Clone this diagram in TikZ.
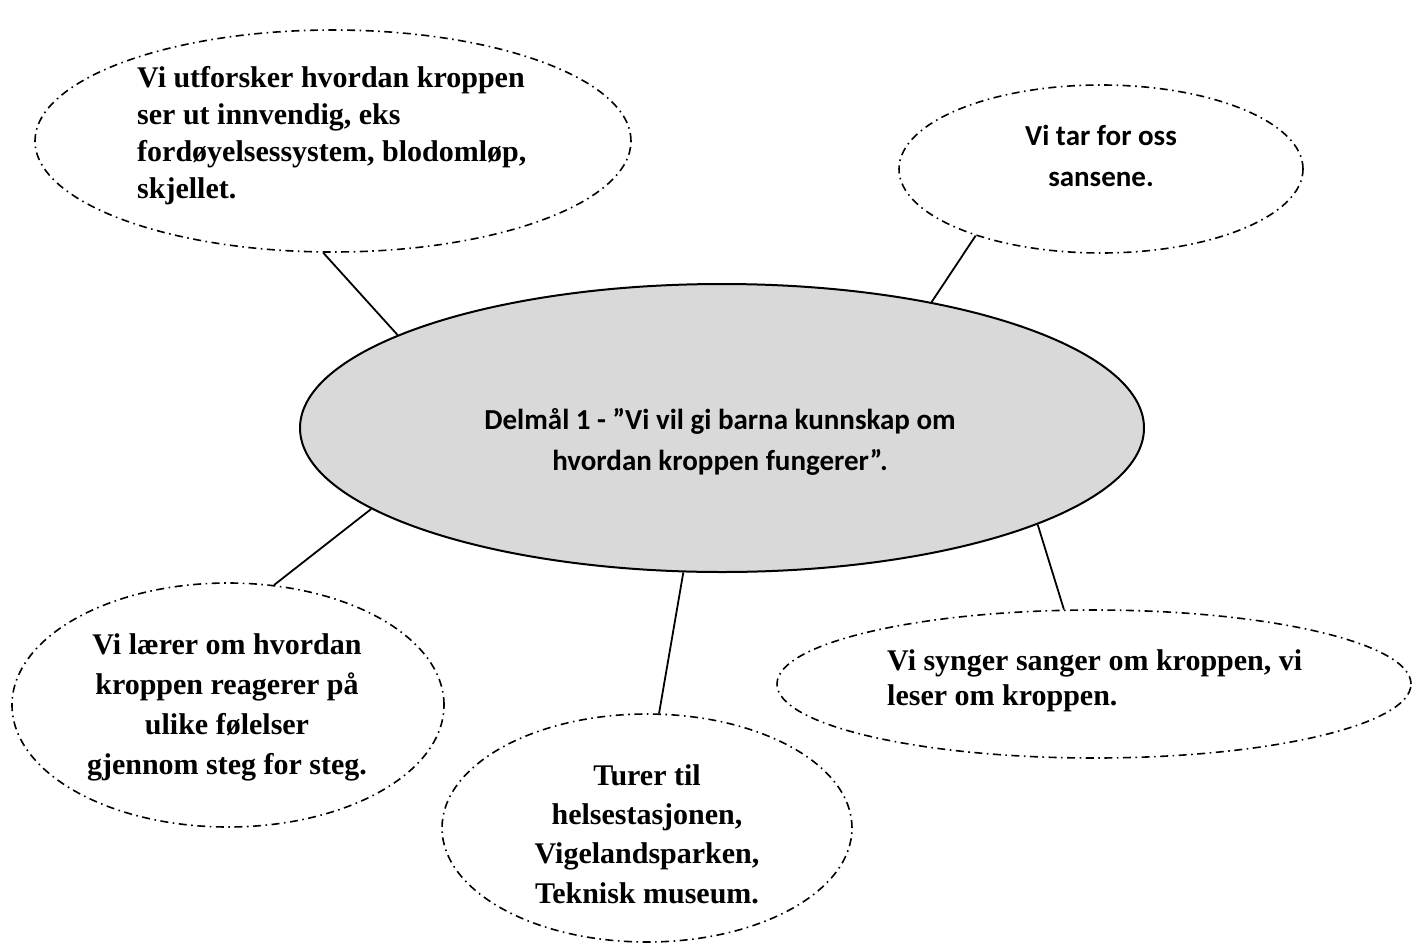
\documentclass[tikz,border=0pt]{standalone}
\usepackage{fontspec}
\setmainfont{Liberation Serif}
\newfontfamily\calibri{Carlito}
\usetikzlibrary{shapes.geometric}
\tikzstyle{bubble}=[ellipse,draw,line width=1.6pt,dash pattern=on 8pt off 4.5pt on 1.6pt off 4.5pt,inner sep=0pt]
\tikzstyle{hub}=[ellipse,draw,line width=2pt,fill=black!15,inner sep=0pt]
\tikzstyle{edge}=[draw,line width=1.8pt]
\tikzstyle{txt}=[inner sep=0pt,font=\fontsize{30}{37}\selectfont\bfseries]
\tikzstyle{ctxt}=[inner sep=0pt,font=\fontsize{29}{41}\selectfont\calibri\bfseries]
\begin{document}
\begin{tikzpicture}[x=1pt,y=-1pt]
    \useasboundingbox (0,0) rectangle (1413,945);
    % the goal in the middle
    \node[hub,minimum width=844pt,minimum height=288pt] (hub) at (722,428) {};
    % dash-dotted bubbles round it
    \foreach \pos/\name/\w/\h in {{(333,141)/tl/596/222}, {(1101,169)/tr/404/168},
                                  {(228,705)/bl/432/244}, {(647,828)/bm/410/228},
                                  {(1094,684)/br/634/148}}
        \node[bubble,minimum width=\w pt,minimum height=\h pt] (\name) at \pos {};
    % texts
    \node[txt,align=left,anchor=west] (tltext) at (137,136)
        {Vi utforsker hvordan kroppen\\ser ut innvendig, eks\\fordøyelsessystem, blodomløp,\\skjellet.};
    \node[ctxt,align=center] (trtext) at (1101,156) {Vi tar for oss\\sansene.};
    \node[ctxt,align=center] (hubtext) at (720,442)
        {Delmål 1 - ”Vi vil gi barna kunnskap om\\hvordan kroppen fungerer”.};
    \node[txt,align=center,font=\fontsize{30}{40}\selectfont\bfseries] (bltext) at (227,707)
        {Vi lærer om hvordan\\kroppen reagerer på\\ulike følelser\\gjennom steg for steg.};
    \node[txt,align=center,font=\fontsize{30}{39.3}\selectfont\bfseries] (bmtext) at (647,834)
        {Turer til\\helsestasjonen,\\Vigelandsparken,\\Teknisk museum.};
    \node[txt,align=left,anchor=west,font=\fontsize{30}{35}\selectfont\bfseries] (brtext) at (887,681)
        {Vi synger sanger om kroppen, vi\\leser om kroppen.};
    % connect the bubbles to the goal
    \foreach \source/\dest in {hub.164/tl.265, hub.31/tr.208, hub.193/bl.69,
                               hub.255/bm.84, hub.343/br.112}
        \path[edge] (\source) -- (\dest);
\end{tikzpicture}
\end{document}
